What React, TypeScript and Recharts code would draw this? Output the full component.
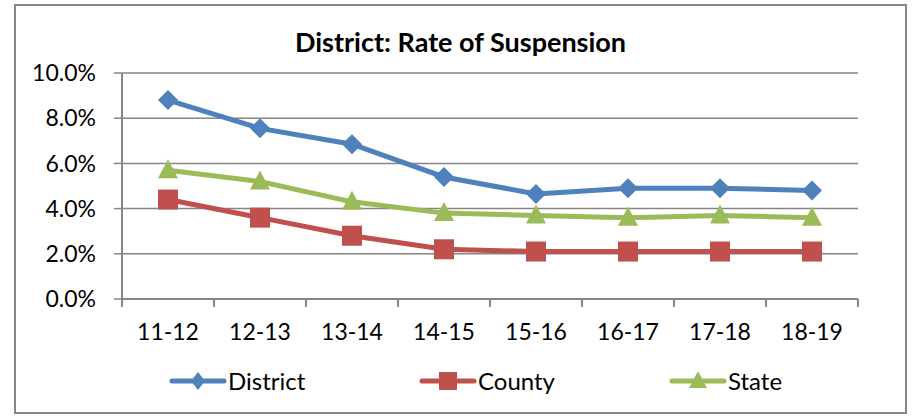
import { LineChart, Line, XAxis, YAxis, CartesianGrid, Legend } from "recharts";

const years = ["11-12", "12-13", "13-14", "14-15", "15-16", "16-17", "17-18", "18-19"];
const district = [8.8, 7.55, 6.85, 5.4, 4.65, 4.9, 4.9, 4.8];
const county = [4.4, 3.6, 2.8, 2.2, 2.1, 2.1, 2.1, 2.1];
const state = [5.7, 5.2, 4.3, 3.8, 3.7, 3.6, 3.7, 3.6];
const yTicks = [0, 2, 4, 6, 8, 10];

const data = years.map((year, i) => ({
  year,
  District: district[i],
  County: county[i],
  State: state[i],
}));

const BLUE = "#4f81bd";
const RED = "#c0504d";
const GREEN = "#9bbb59";
const GRID = "#868686";
const FONT = "Lato, 'Open Sans', sans-serif";

const CHART_W = 889;
const CHART_H = 406;
const MARGIN = { top: 67, right: 47, bottom: 63, left: 0 };
const Y_W = 106;
const TICK_SIZE = 8;
const X_MARGIN = 17;
const PLOT_W = CHART_W - MARGIN.left - MARGIN.right - Y_W;

type Shape = "diamond" | "square" | "triangle";

// w/h are half sizes of the marker
function marker(shape: Shape, cx: number, cy: number, color: string, w = 10, h = 10) {
  if (shape === "diamond") {
    return (
      <polygon
        points={`${cx},${cy - h} ${cx + w},${cy} ${cx},${cy + h} ${cx - w},${cy}`}
        fill={color}
      />
    );
  }
  if (shape === "square") {
    return <rect x={cx - w} y={cy - h} width={w * 2} height={h * 2} fill={color} />;
  }
  return (
    <polygon
      points={`${cx},${cy - h - 1} ${cx + w},${cy + h - 2} ${cx - w},${cy + h - 2}`}
      fill={color}
    />
  );
}

const makeDot = (shape: Shape, color: string) => (props: any) => {
  const { cx, cy, index } = props;
  if (cx == null || cy == null) return <g key={index} />;
  return <g key={index}>{marker(shape, cx, cy, color)}</g>;
};

const series: { key: string; color: string; shape: Shape }[] = [
  { key: "District", color: BLUE, shape: "diamond" },
  { key: "County", color: RED, shape: "square" },
  { key: "State", color: GREEN, shape: "triangle" },
];

function XTick(props: any) {
  const { x, y, payload, index, visibleTicksCount } = props;
  const band = PLOT_W / visibleTicksCount;
  const axisY = y - X_MARGIN - TICK_SIZE;
  const left = x - band / 2;
  return (
    <g>
      <line x1={left} x2={left} y1={axisY} y2={axisY + TICK_SIZE} stroke={GRID} strokeWidth={2} />
      {index === visibleTicksCount - 1 && (
        <line
          x1={left + band}
          x2={left + band}
          y1={axisY}
          y2={axisY + TICK_SIZE}
          stroke={GRID}
          strokeWidth={2}
        />
      )}
      <text
        x={x}
        y={y}
        dy="0.71em"
        textAnchor="middle"
        fill="#000"
        fontSize={23}
        fontFamily={FONT}
      >
        {payload.value}
      </text>
    </g>
  );
}

function renderLegend() {
  return (
    <div style={{ display: "flex", fontFamily: FONT, fontSize: 24, lineHeight: "28px", color: "#000" }}>
      {series.map((s) => (
        <div key={s.key} style={{ width: 250, display: "flex", alignItems: "center" }}>
          <svg width={58} height={28} style={{ display: "block" }}>
            <line x1={3} x2={55} y1={14} y2={14} stroke={s.color} strokeWidth={5} strokeLinecap="round" />
            {marker(s.shape, 29, 14, s.color, s.shape === "diamond" ? 7 : 9, 9)}
          </svg>
          <span style={{ marginLeft: 1 }}>{s.key}</span>
        </div>
      ))}
    </div>
  );
}

export default function App() {
  return (
    <div
      style={{
        position: "absolute",
        left: 14,
        top: 4,
        width: CHART_W,
        height: CHART_H,
        border: `2px solid ${GRID}`,
        background: "#fff",
      }}
    >
      <div
        style={{
          position: "absolute",
          top: 20,
          left: 0,
          width: "100%",
          textAlign: "center",
          fontFamily: FONT,
          fontWeight: 700,
          fontSize: 27,
          lineHeight: "32px",
          color: "#000",
        }}
      >
        District: Rate of Suspension
      </div>
      <LineChart width={CHART_W} height={CHART_H} data={data} margin={MARGIN}>
        <CartesianGrid vertical={false} stroke={GRID} strokeWidth={1.5} />
        <XAxis
          dataKey="year"
          scale="band"
          axisLine={{ stroke: GRID, strokeWidth: 2 }}
          tickLine={false}
          tickSize={TICK_SIZE}
          tickMargin={X_MARGIN}
          tick={<XTick />}
          height={50}
          interval={0}
        />
        <YAxis
          domain={[0, 10]}
          ticks={yTicks}
          width={Y_W}
          axisLine={{ stroke: GRID, strokeWidth: 2 }}
          tickLine={{ stroke: GRID, strokeWidth: 1.5 }}
          tickSize={TICK_SIZE}
          tickMargin={18}
          tickFormatter={(v: number) => `${v.toFixed(1)}%`}
          tick={{ fill: "#000", fontSize: 23, fontFamily: FONT }}
        />
        <Legend
          layout="horizontal"
          verticalAlign="middle"
          align="center"
          wrapperStyle={{ top: 361, left: 153, width: 750 }}
          content={renderLegend}
        />
        {series.map((s) => (
          <Line
            key={s.key}
            dataKey={s.key}
            stroke={s.color}
            strokeWidth={5}
            dot={makeDot(s.shape, s.color)}
            activeDot={false}
            isAnimationActive={false}
          />
        ))}
      </LineChart>
    </div>
  );
}
